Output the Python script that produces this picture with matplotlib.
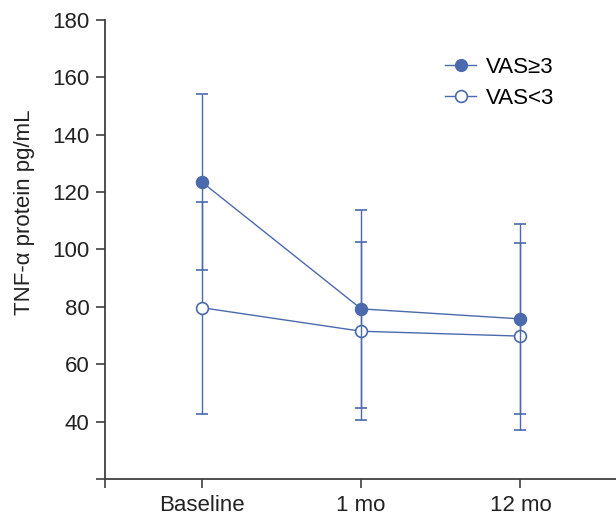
import matplotlib.pyplot as plt
from matplotlib.lines import Line2D

plt.rcParams["font.family"] = ["Liberation Sans", "DejaVu Sans"]

# Werte (Mittelwert +/- SD)
timepoints = ["Baseline", "1 mo", "12 mo"]
vas_high_mean = [123.5, 79.3, 75.8]
vas_high_sd = [30.7, 34.4, 33.2]
vas_low_mean = [79.7, 71.5, 69.8]
vas_low_sd = [36.9, 31.1, 32.6]

blue = "#4a6aad"
axis_col = "#404040"
txt_col = "#222222"

fig = plt.figure(figsize=(6.16, 5.17), dpi=100)
ax = fig.add_axes([0.171, 0.0735, 0.829, 0.888])

x = [1, 2, 3]
ax.errorbar(x, vas_low_mean, yerr=vas_low_sd, color=blue, lw=1.0,
            marker="o", ms=8.5, mfc="white", mec=blue, mew=1.2,
            capsize=4, capthick=1.0, elinewidth=1.0, zorder=3)
ax.errorbar(x, vas_high_mean, yerr=vas_high_sd, color=blue, lw=1.0,
            marker="o", ms=8.5, mfc=blue, mec=blue, mew=1.2,
            capsize=4, capthick=1.0, elinewidth=1.0, zorder=4)

ax.set_xlim(0.394, 3.6)
ax.set_ylim(20, 180)
ax.set_xticks([0.394] + x)
ax.set_xticklabels([""] + timepoints)
ax.set_yticks(range(20, 181, 20))
ax.set_yticklabels([""] + [str(v) for v in range(40, 181, 20)])

for s in ["top", "right"]:
    ax.spines[s].set_visible(False)
for s in ["left", "bottom"]:
    ax.spines[s].set_color(axis_col)
    ax.spines[s].set_linewidth(1.3)
ax.tick_params(direction="out", length=6.5, width=1.2, color=axis_col,
               labelsize=16, labelcolor=txt_col, pad=5)
ax.set_ylabel("TNF-\u03b1 protein pg/mL", fontsize=16, color=txt_col)
ax.yaxis.set_label_coords(-0.137, 0.58)

handles = [
    Line2D([], [], color=blue, lw=1.0, marker="o", ms=8.5, mfc=blue, mec=blue),
    Line2D([], [], color=blue, lw=1.0, marker="o", ms=8.5, mfc="white", mec=blue, mew=1.2),
]
ax.legend(handles, ["VAS\u22653", "VAS<3"], loc="upper left", bbox_to_anchor=(0.69, 0.928),
          bbox_transform=fig.transFigure, frameon=False, fontsize=16,
          handlelength=1.4, handletextpad=0.45, labelspacing=0.45)

plt.savefig("out.png", dpi=100)
